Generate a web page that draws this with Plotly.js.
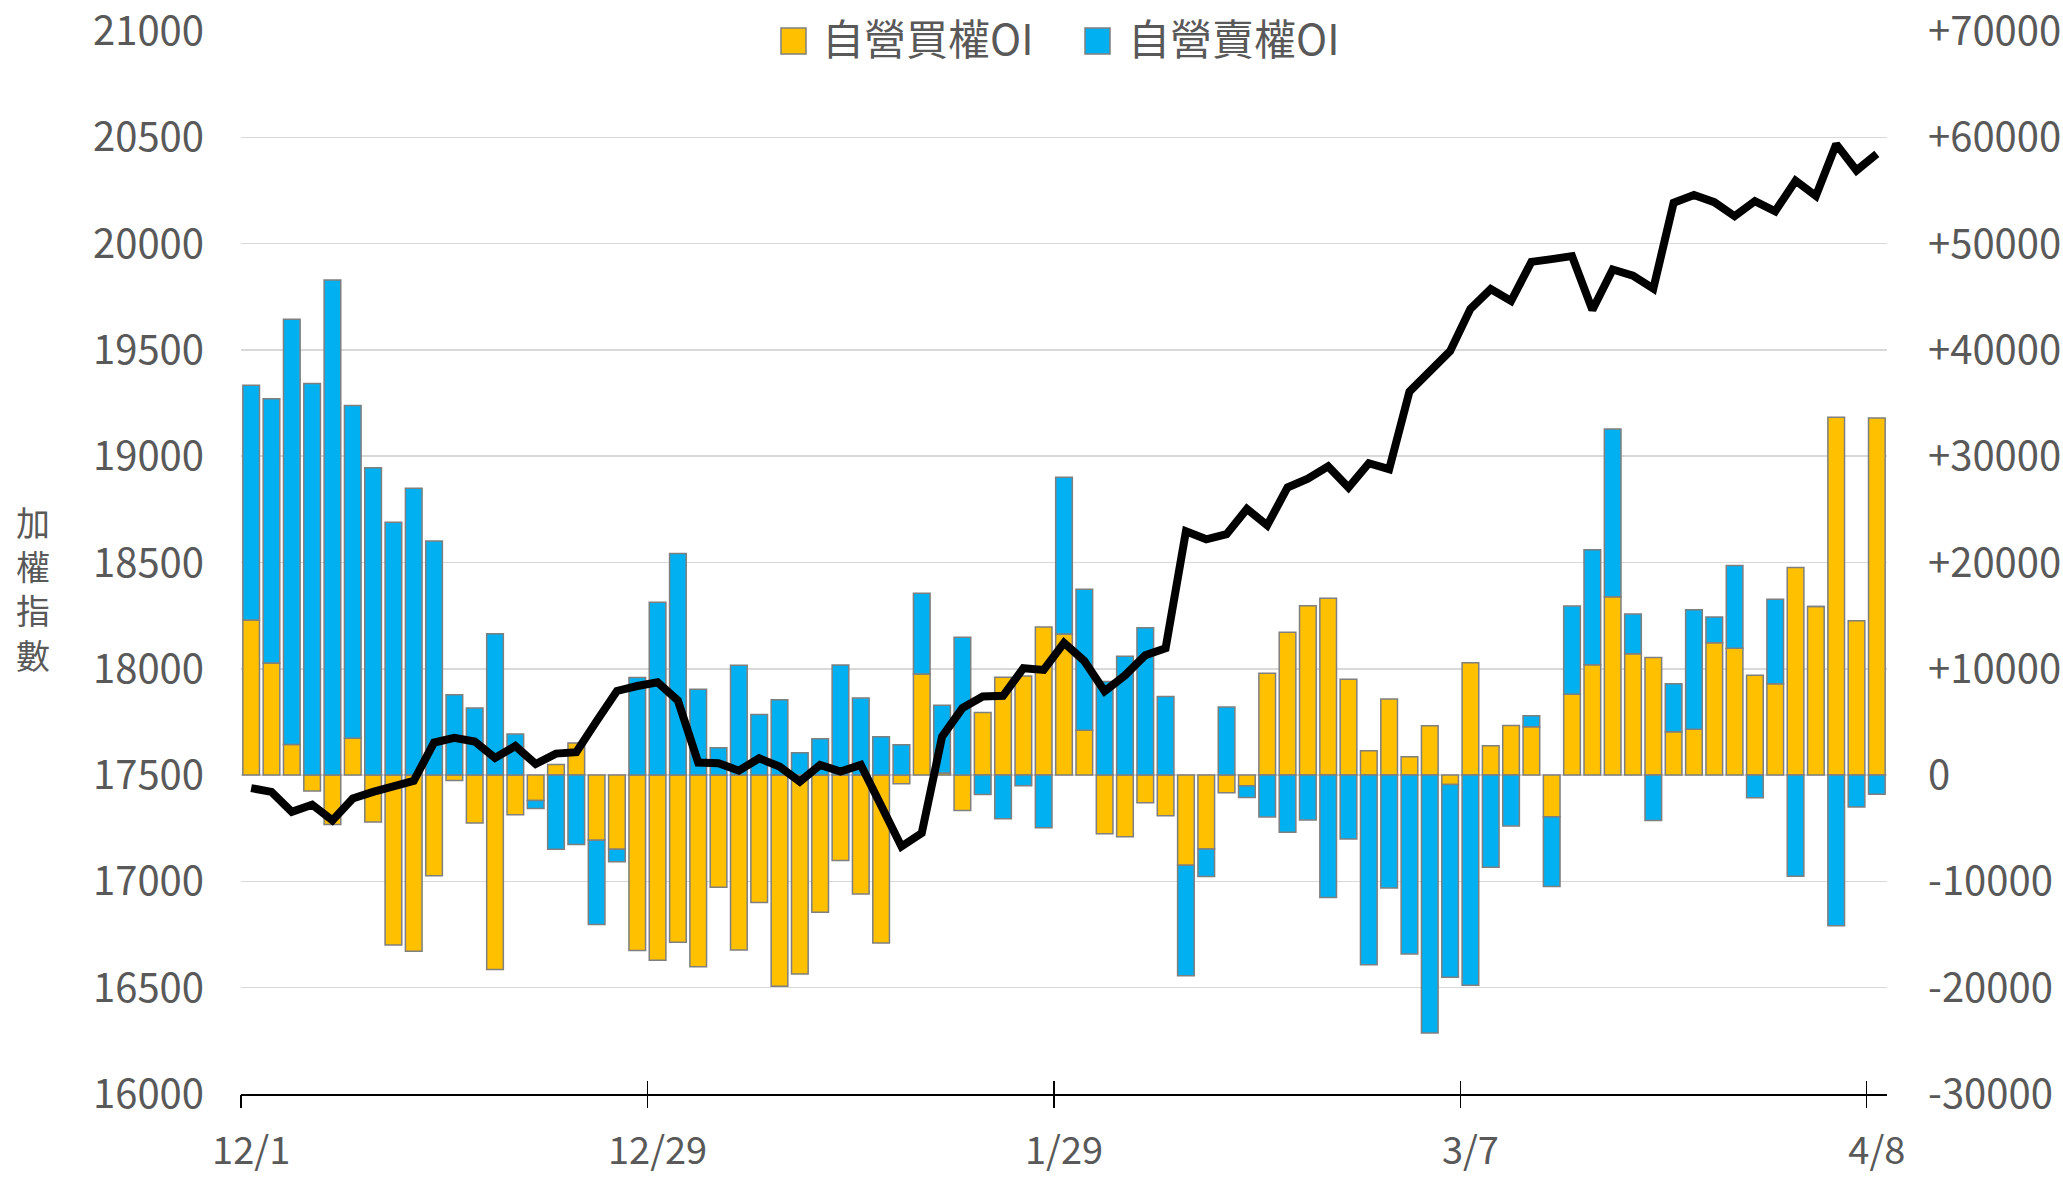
<!DOCTYPE html>
<html>
<head>
<meta charset="utf-8">
<script src="https://cdn.plot.ly/plotly-3.0.1.min.js"></script>
<style>html,body{margin:0;padding:0;background:#fff;}#chart{width:2063px;height:1179px;}</style>
</head>
<body>
<div id="chart"></div>
<script>
// ---- data ----
var dates = ['12/1','12/4','12/5','12/6','12/7','12/8','12/11','12/12','12/13','12/14','12/15','12/18','12/19','12/20','12/21','12/22','12/25','12/26','12/27','12/28','12/29',
  '1/2','1/3','1/4','1/5','1/8','1/9','1/10','1/11','1/12','1/15','1/16','1/17','1/18','1/19','1/22','1/23','1/24','1/25','1/26','1/29','1/30','1/31',
  '2/1','2/2','2/5','2/15','2/16','2/19','2/20','2/21','2/22','2/23','2/26','2/27','2/29',
  '3/1','3/4','3/5','3/6','3/7','3/8','3/11','3/12','3/13','3/14','3/15','3/18','3/19','3/20','3/21','3/22','3/25','3/26','3/27','3/28','3/29',
  '4/1','4/2','4/3','4/8'];

var buyCallOI = [14600,10540,2880,-1490,-4640,3470,-4410,-15990,-16580,-9460,-500,-4500,-18290,-3740,-2390,990,3020,-6130,-6980,-16490,-17420,
  -15720,-18020,-10550,-16450,-11990,-19870,-18710,-12900,-8040,-11180,-15790,-820,9510,190,-3330,5900,9200,9330,13940,13270,4220,-5520,
  -5810,-2610,-3830,-8480,-6960,-1650,-990,9570,13430,15940,16630,9010,2280,
  7160,1720,4650,-890,10560,2770,4670,4550,-3920,7610,10370,16770,11410,11070,4090,4320,12450,11930,9390,8590,19540,
  15850,33660,14520,33600];

var sellPutOI = [22070,24870,40000,36850,46580,31300,28920,23780,26980,22030,7570,6310,13290,3870,-760,-6980,-6530,-7920,-1170,9190,16250,
  20850,8070,2570,10330,5710,7100,2100,3420,10360,7250,3610,2860,7600,6370,12970,-1820,-4110,-1000,-4960,14740,13260,8800,
  11190,13860,7390,-10400,-2580,6400,-1120,-3930,-5380,-4220,-11520,-6010,-17850,
  -10630,-16830,-24250,-18120,-19770,-8680,-4780,1040,-6570,8300,10840,15790,3750,-4270,4500,11240,2420,7780,-2130,7950,-9510,
  0,-14180,-3000,-1790];

var taiex = [17439,17421,17327,17361,17287,17390,17421,17451,17473,17653,17675,17658,17581,17637,17552,17601,17608,17754,17896,17919,17937,
  17851,17559,17556,17521,17579,17540,17469,17548,17517,17548,17357,17164,17227,17681,17815,17870,17873,18003,17995,18122,18037,17895,
  17969,18064,18097,18647,18609,18633,18752,18675,18853,18894,18952,18853,18967,
  18939,19304,19395,19494,19693,19786,19730,19914,19927,19941,19688,19878,19849,19788,20192,20229,20195,20129,20200,20152,20296,
  20224,20468,20344,20422];

var xTickLabels = ['12/1','12/29','1/29','3/7','4/8'];
var oiTicks = [-30000,-20000,-10000,0,10000,20000,30000,40000,50000,60000,70000];
var oiTickText = ['-30000','-20000','-10000','0','+10000','+20000','+30000','+40000','+50000','+60000','+70000'];
var idxTicks = [16000,16500,17000,17500,18000,18500,19000,19500,20000,20500,21000];
var idxTickText = ['16000','16500','17000','17500','18000','18500','19000','19500','20000','20500','21000'];
var seriesNames = ['自營買權OI','自營賣權OI'];
var yTitle = '加權指數';

// ---- style ----
var FONT = 'Noto Sans CJK TC, Noto Sans, sans-serif';
var TXT = '#595959';
var YELLOW = '#FFC000', BLUE = '#00B0F0', EDGE = '#7F7F7F';
var W = 2063, H = 1179, ML = 241, MR = 176, MT = 31, MB = 85;
var PW = W - ML - MR, PH = H - MT - MB;
function px(x){ return (x - ML) / PW; }
function py(y){ return (H - MB - y) / PH; }

// boundary tick positions (category index space) for the date ticks
var bndTicks = xTickLabels.map(function(l){ return dates.indexOf(l) - 0.5; });
var xr = [-0.5, dates.length - 0.5];

var traces = [
  {type:'bar', x:dates, y:buyCallOI, name:seriesNames[0], xaxis:'x', yaxis:'y',
   marker:{color:YELLOW, line:{color:EDGE, width:1.5}}, hoverinfo:'x+y'},
  {type:'bar', x:dates, y:sellPutOI, name:seriesNames[1], xaxis:'x', yaxis:'y',
   marker:{color:BLUE, line:{color:EDGE, width:1.5}}, hoverinfo:'x+y'},
  {type:'scatter', mode:'lines', x:dates, y:taiex, name:yTitle, xaxis:'x', yaxis:'y2',
   line:{color:'#000000', width:8, shape:'linear'}, hoverinfo:'x+y'},
  // empty helper traces so the tick-only helper axes are drawn
  {type:'scatter', mode:'lines', x:[], y:[], xaxis:'x2', yaxis:'y', showlegend:false, hoverinfo:'skip'},
  {type:'scatter', mode:'lines', x:[], y:[], xaxis:'x3', yaxis:'y', showlegend:false, hoverinfo:'skip'}
];

var annotations = [];
// legend texts
annotations.push({xref:'paper', yref:'paper', x:px(820), y:py(37), xanchor:'left', yanchor:'middle',
  text:seriesNames[0], showarrow:false, font:{family:FONT, size:42, color:TXT}});
annotations.push({xref:'paper', yref:'paper', x:px(1126), y:py(37), xanchor:'left', yanchor:'middle',
  text:seriesNames[1], showarrow:false, font:{family:FONT, size:42, color:TXT}});
// vertical y-axis title (stacked characters, one text block)
annotations.push({xref:'paper', yref:'paper', x:px(33), y:py(588), xanchor:'center', yanchor:'middle',
  text:yTitle.split('').join('<br>'), showarrow:false, align:'center', font:{family:FONT, size:34, color:TXT}});

var shapes = [
  {type:'rect', xref:'paper', yref:'paper', x0:px(781), x1:px(806), y0:py(54), y1:py(28),
   fillcolor:YELLOW, line:{color:EDGE, width:1.5}},
  {type:'rect', xref:'paper', yref:'paper', x0:px(1085), x1:px(1110), y0:py(54), y1:py(28),
   fillcolor:BLUE, line:{color:EDGE, width:1.5}}
];

var layout = {
  width:W, height:H,
  margin:{l:ML, r:MR, t:MT, b:MB, pad:0},
  paper_bgcolor:'#ffffff', plot_bgcolor:'#ffffff',
  barmode:'relative', bargap:0.18,
  showlegend:false,
  font:{family:FONT, color:TXT, size:40},
  xaxis:{type:'category', range:xr, tickmode:'array', tickvals:xTickLabels, ticktext:xTickLabels,
    ticks:'', showgrid:false, zeroline:false, showline:true, linecolor:'#000000', linewidth:2,
    tickfont:{family:FONT, size:38, color:TXT}, ticklabelstandoff:22, ticklabeloverflow:'allow', fixedrange:true},
  xaxis2:{overlaying:'x', anchor:'y', side:'bottom', range:xr, tickmode:'array', tickvals:bndTicks,
    ticks:'outside', ticklen:13, tickwidth:1.5, tickcolor:'#000000', showticklabels:false, showgrid:false, zeroline:false, showline:false, fixedrange:true},
  xaxis3:{overlaying:'x', anchor:'y', side:'bottom', range:xr, tickmode:'array', tickvals:bndTicks,
    ticks:'inside', ticklen:13, tickwidth:1.5, tickcolor:'#000000', showticklabels:false, showgrid:false, zeroline:false, showline:false, fixedrange:true},
  yaxis:{side:'right', range:[-30000, 70000.5], tickmode:'array', tickvals:oiTicks, ticktext:oiTickText,
    showgrid:true, gridcolor:'#D9D9D9', gridwidth:1.5, zeroline:false, showline:false, ticks:'',
    tickfont:{family:FONT, size:40, color:TXT}, ticklabelstandoff:40, ticklabeloverflow:'allow', fixedrange:true},
  yaxis2:{overlaying:'y', side:'left', range:[16000, 21000.025], tickmode:'array', tickvals:idxTicks, ticktext:idxTickText,
    showgrid:false, zeroline:false, showline:false, ticks:'',
    tickfont:{family:FONT, size:40, color:TXT}, ticklabelstandoff:36, ticklabeloverflow:'allow', fixedrange:true},
  annotations:annotations,
  shapes:shapes
};

Plotly.newPlot('chart', traces, layout, {displayModeBar:false, staticPlot:true});
</script>
</body>
</html>
